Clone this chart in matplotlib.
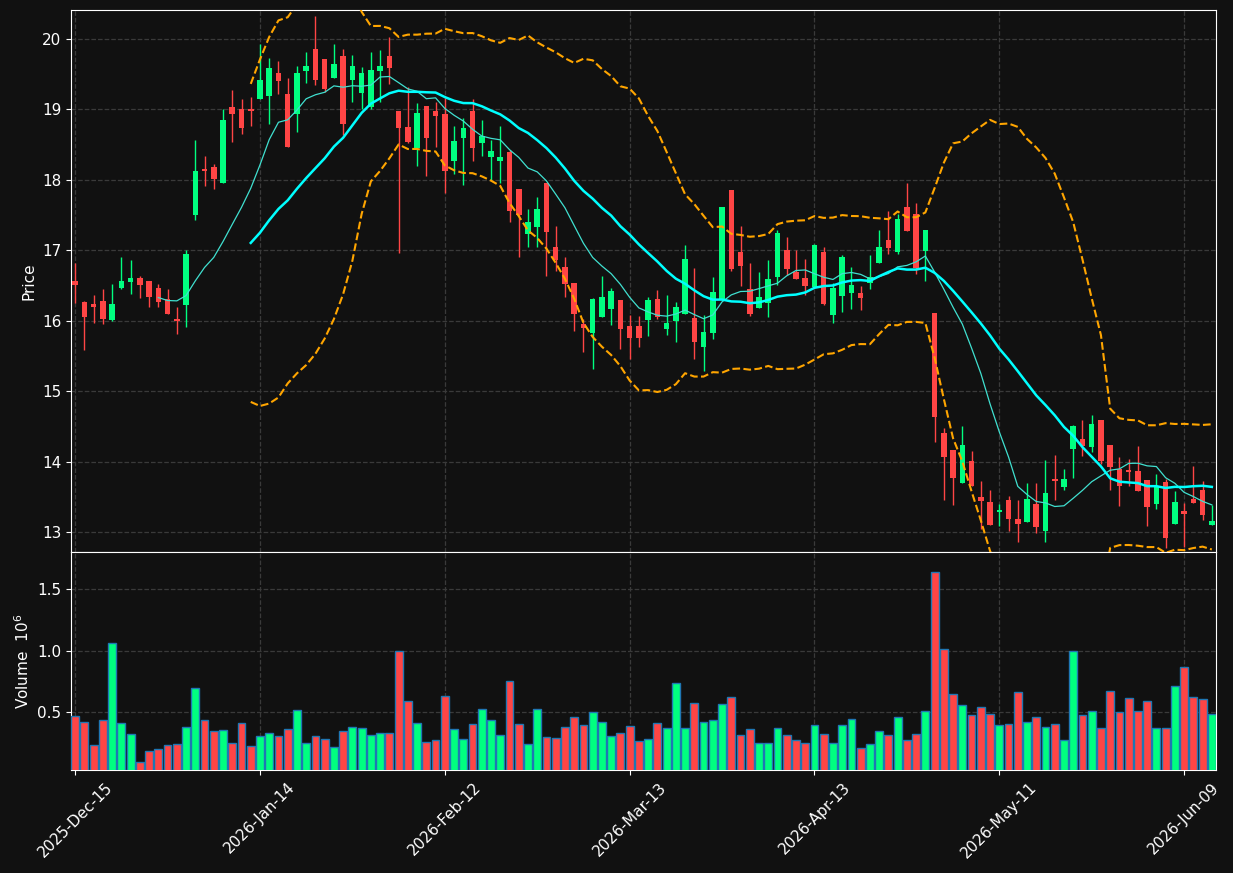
import numpy as np
import pandas as pd
import matplotlib
matplotlib.use("Agg")
import matplotlib.pyplot as plt

opens = [16.57,16.27,16.23,16.28,16.01,16.47,16.545,16.60,16.57,16.47,
         16.31,16.03,16.22,17.50,18.16,18.175,17.96,19.03,19.01,19.00,
         19.15,19.19,19.51,19.22,18.93,19.55,19.86,19.72,19.44,19.76,
         19.41,19.23,19.04,19.55,19.76,18.98,18.75,18.45,19.05,18.98,
         18.94,18.27,18.60,18.97,18.52,18.33,18.27,18.40,17.87,17.23,
         17.33,17.95,17.04,16.76,16.53,15.95,15.83,16.05,16.17,16.29,
         15.92,15.92,16.01,16.31,15.88,16.00,16.09,16.04,15.62,15.83,
         16.30,17.86,16.97,16.45,16.18,16.25,16.62,17.00,16.69,16.60,
         16.48,16.97,16.08,16.35,16.39,16.39,16.54,16.82,17.15,16.97,
         17.62,17.52,16.99,16.11,14.40,14.17,13.69,14.01,13.50,13.43,
         13.28,13.46,13.19,13.14,13.40,13.01,13.75,13.64,14.18,14.32,
         14.20,14.59,14.24,13.89,13.88,13.87,13.74,13.40,13.71,13.11,
         13.30,13.47,13.60,13.10]
highs = [16.82,16.28,16.36,16.45,16.52,16.91,16.86,16.64,16.57,16.52,
         16.45,16.19,17.01,18.57,18.34,18.22,19.01,19.28,19.15,19.18,
         19.93,19.73,19.69,19.45,19.61,19.81,20.33,19.72,19.93,19.86,
         19.77,19.60,19.82,19.84,20.03,18.98,19.31,19.09,19.05,19.10,
         19.16,18.76,18.88,19.15,18.85,18.57,18.76,18.42,17.87,17.58,
         17.75,17.95,17.34,16.91,16.53,16.02,16.32,16.64,16.47,16.29,
         16.08,16.06,16.33,16.43,16.36,16.27,17.07,16.75,16.08,16.62,
         17.62,17.86,17.35,16.82,16.69,16.86,17.29,17.19,17.00,16.88,
         17.09,17.04,16.54,16.93,16.76,16.49,16.93,17.28,17.56,17.51,
         17.95,17.67,17.29,16.11,14.48,14.17,14.51,14.15,13.73,13.59,
         13.40,13.51,13.46,13.70,13.70,14.02,14.09,13.90,14.52,14.59,
         14.66,14.59,14.24,14.06,14.04,14.22,13.74,13.83,13.75,13.58,
         13.41,13.94,13.72,13.38]
lows = [16.25,15.59,15.97,15.95,16.00,16.45,16.38,16.32,16.19,16.19,
        16.09,15.81,15.91,17.43,17.91,17.87,17.95,18.54,18.65,18.76,
        19.15,18.79,19.22,18.46,18.68,19.37,19.34,19.25,19.44,18.64,
        19.10,19.00,19.01,19.10,19.36,16.96,18.52,18.20,18.06,18.46,
        17.81,18.08,17.93,18.27,18.34,18.00,17.96,17.40,16.91,17.04,
        17.04,16.64,16.70,16.34,15.86,15.55,15.32,16.05,15.94,15.60,
        15.45,15.62,15.78,16.03,15.79,15.70,16.09,15.45,15.29,15.74,
        16.30,16.70,16.49,16.06,16.18,16.05,16.51,16.65,16.59,16.37,
        16.48,16.22,15.96,16.12,16.16,16.15,16.45,16.82,16.95,16.95,
        17.27,16.66,16.56,14.28,13.45,13.38,13.69,13.65,13.04,13.10,
        13.08,13.02,12.86,13.14,12.99,12.86,13.46,13.60,13.76,14.08,
        14.13,13.96,13.59,13.37,13.66,13.58,13.08,13.32,12.77,13.11,
        12.79,13.41,13.17,13.10]
closes = [16.51,16.05,16.19,16.03,16.23,16.57,16.60,16.50,16.33,16.27,
          16.09,16.00,16.94,18.12,18.13,18.005,18.85,18.94,18.74,18.98,
          19.41,19.59,19.40,18.47,19.51,19.61,19.42,19.29,19.65,18.79,
          19.62,19.52,19.56,19.62,19.58,18.74,18.53,18.95,18.60,18.91,
          18.12,18.55,18.74,18.45,18.62,18.41,18.32,17.555,17.50,17.40,
          17.58,17.26,16.86,16.52,16.09,15.90,16.31,16.33,16.42,15.88,
          15.75,15.75,16.29,16.05,15.96,16.20,16.87,15.69,15.84,16.41,
          17.61,16.74,16.77,16.09,16.33,16.59,17.25,16.74,16.59,16.49,
          17.07,16.24,16.46,16.91,16.50,16.32,16.62,17.05,17.03,17.44,
          17.27,16.75,17.29,14.63,14.06,13.76,14.23,13.65,13.44,13.10,
          13.31,13.18,13.12,13.47,13.07,13.56,13.72,13.75,14.51,14.22,
          14.54,14.01,13.92,13.66,13.85,13.58,13.35,13.65,12.92,13.43,
          13.26,13.41,13.24,13.16]
volumes = [0.467,0.418,0.23,0.434,1.066,0.41,0.32,0.098,0.18,0.197,
           0.23,0.238,0.377,0.697,0.434,0.344,0.352,0.246,0.41,0.221,
           0.303,0.328,0.303,0.36,0.516,0.246,0.303,0.279,0.213,0.344,
           0.377,0.369,0.311,0.328,0.328,0.995,0.59,0.41,0.254,0.27,
           0.631,0.36,0.279,0.402,0.525,0.434,0.311,0.754,0.402,0.238,
           0.525,0.295,0.287,0.377,0.459,0.393,0.5,0.418,0.303,0.328,
           0.385,0.262,0.279,0.41,0.369,0.738,0.369,0.574,0.418,0.434,
           0.566,0.623,0.311,0.36,0.246,0.246,0.369,0.311,0.27,0.246,
           0.393,0.32,0.246,0.393,0.443,0.205,0.238,0.344,0.311,0.459,
           0.27,0.32,0.508,1.639,1.016,0.648,0.557,0.475,0.541,0.484,
           0.393,0.402,0.664,0.418,0.459,0.377,0.402,0.27,1.0,0.475,
           0.508,0.369,0.672,0.5,0.615,0.508,0.59,0.369,0.369,0.713,
           0.869,0.623,0.607,0.484]
tick_pos = [0, 20, 40, 60, 80, 100, 120]
tick_labels = ['2025-Dec-15', '2026-Jan-14', '2026-Feb-12', '2026-Mar-13',
               '2026-Apr-13', '2026-May-11', '2026-Jun-09']

BG = '#111111'
UP = '#00ff80'
DOWN = '#ff4545'
GRID = '#3a3a3a'

o = np.array(opens); h = np.array(highs); l = np.array(lows); c = np.array(closes)
v = np.array(volumes)
x = np.arange(len(c))
close_s = pd.Series(c)
ma10 = close_s.rolling(10).mean()
ma20 = close_s.rolling(20).mean()
sd20 = close_s.rolling(20).std()
upper = ma20 + 2 * sd20
lower = ma20 - 2 * sd20

fig = plt.figure(figsize=(12.33, 8.73), dpi=100, facecolor=BG)
axp = fig.add_axes([71/1233, 1-552/873, (1216-71)/1233, (552-10)/873])
axv = fig.add_axes([71/1233, 1-770/873, (1216-71)/1233, (770-552)/873], sharex=axp)

for ax in (axp, axv):
    ax.set_facecolor(BG)
    for s in ax.spines.values():
        s.set_color('white')
    ax.tick_params(colors='white', labelsize=11)
    ax.grid(True, color=GRID, linestyle='--', linewidth=0.9)
    ax.set_axisbelow(True)

up = c >= o
cols = np.where(up, UP, DOWN)
axp.vlines(x, l, h, colors=cols, linewidth=1.0, zorder=2)
body_bottom = np.minimum(o, c)
body_h = np.maximum(np.abs(c - o), 0.012)
axp.bar(x, body_h, bottom=body_bottom, width=0.6, color=cols, linewidth=0, zorder=3)

axp.plot(x, ma10, color='#40e0d0', linewidth=0.9, zorder=4)
axp.plot(x, ma20, color='#00ffff', linewidth=1.8, zorder=4)
axp.plot(x, upper, color='#ffa500', linewidth=1.5, linestyle='--', zorder=4)
axp.plot(x, lower, color='#ffa500', linewidth=1.5, linestyle='--', zorder=4)

axp.set_ylim(12.716, 20.41)
axp.set_yticks([13, 14, 15, 16, 17, 18, 19, 20])
axp.set_ylabel('Price', color='white', fontsize=11)
axp.tick_params(axis='x', labelbottom=False)

axv.bar(x, v, width=0.85, color=cols, edgecolor='#1f77b4', linewidth=1.0, zorder=3)
axv.set_ylim(0.3 * v.min(), 1.1 * v.max())
axv.set_yticks([0.5, 1.0, 1.5])
axv.set_ylabel('Volume  $10^6$', color='white', fontsize=11)
axv.set_xlim(-0.45, len(c) - 0.55)
axv.set_xticks(tick_pos)
axv.set_xticklabels(tick_labels, rotation=45, ha='center', color='white', fontsize=11)

fig.savefig('out.png', dpi=100, facecolor=BG)
